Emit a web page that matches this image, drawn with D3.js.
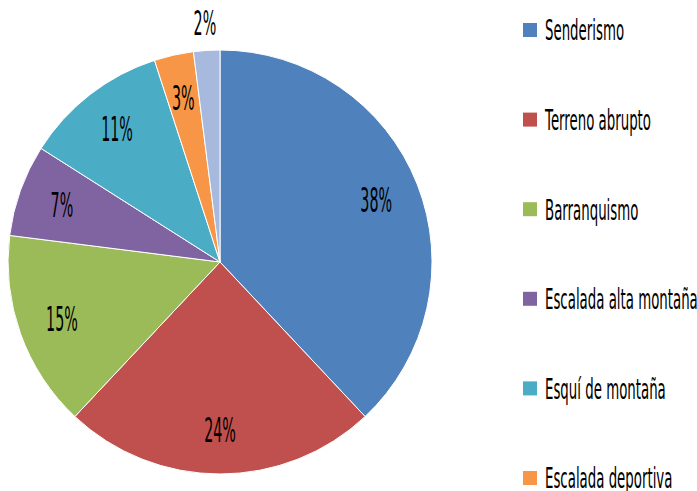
<!DOCTYPE html>
<html>
<head>
<meta charset="utf-8">
<script src="https://cdn.jsdelivr.net/npm/d3@7"></script>
<style>
  body { margin: 0; background: #fff; }
  text { font-family: "DejaVu Sans", sans-serif; fill: #000; }
</style>
</head>
<body>
<div class="chart"></div>
<script>
var w = 697
var h = 491

// DATA
var categories = ['Senderismo', 'Terreno abrupto', 'Barranquismo', 'Escalada alta montaña',
        'Esquí de montaña', 'Escalada deportiva', 'Otros']
var values = [38, 24, 15, 7, 11, 3, 2]
var colors = ['#4F81BD', '#C0504D', '#9BBB59', '#8064A2', '#4BACC6', '#F79646', '#A7B9DD']

var data = categories.map(function(c, i){ return {name: c, value: values[i], color: colors[i]} })

var svg = d3.select('.chart').append('svg')
    .attr('width', w)
    .attr('height', h)

// PIE
var cx = 220, cy = 262, r = 212

var pie = d3.pie().sort(null).value(function(d){ return d.value })
var arc = d3.arc().innerRadius(0).outerRadius(r)
var labelArc = d3.arc().innerRadius(168).outerRadius(168)
var outerArc = d3.arc().innerRadius(240).outerRadius(240)

var pieg = svg.append('g').attr('transform', 'translate(' + cx + ',' + cy + ')')

var arcs = pie(data)

pieg.selectAll('path')
    .data(arcs)
    .enter().append('path')
    .attr('d', arc)
    .attr('fill', function(d){ return d.data.color })
    .attr('stroke', '#fff')
    .attr('stroke-width', 1)

// PERCENT LABELS (SMALLEST GOES OUTSIDE)
pieg.selectAll('g.lbl')
    .data(arcs)
    .enter().append('g')
    .attr('class', 'lbl')
    .attr('transform', function(d){
        var p = d.data.value < 3 ? outerArc.centroid(d) : labelArc.centroid(d)
        return 'translate(' + p[0] + ',' + p[1] + ') scale(0.42,1)'
    })
    .append('text')
    .attr('text-anchor', 'middle')
    .attr('dy', '0.36em')
    .style('font-size', '34px')
    .text(function(d){ return d.data.value + '%' })

// LEGEND
var legendY = d3.scalePoint()
    .domain(categories)
    .range([30, 30 + 89.6 * (categories.length - 1)])

var leg = svg.append('g').selectAll('g')
    .data(data)
    .enter().append('g')
    .attr('transform', function(d){ return 'translate(523,' + legendY(d.name) + ')' })

leg.append('rect')
    .attr('x', 0)
    .attr('y', -7)
    .attr('width', 14)
    .attr('height', 14)
    .attr('fill', function(d){ return d.color })

leg.append('g')
    .attr('transform', 'translate(22,0) scale(0.46,1)')
    .append('text')
    .attr('dy', '0.36em')
    .style('font-size', '29px')
    .text(function(d){ return d.name })
</script>
</body>
</html>
